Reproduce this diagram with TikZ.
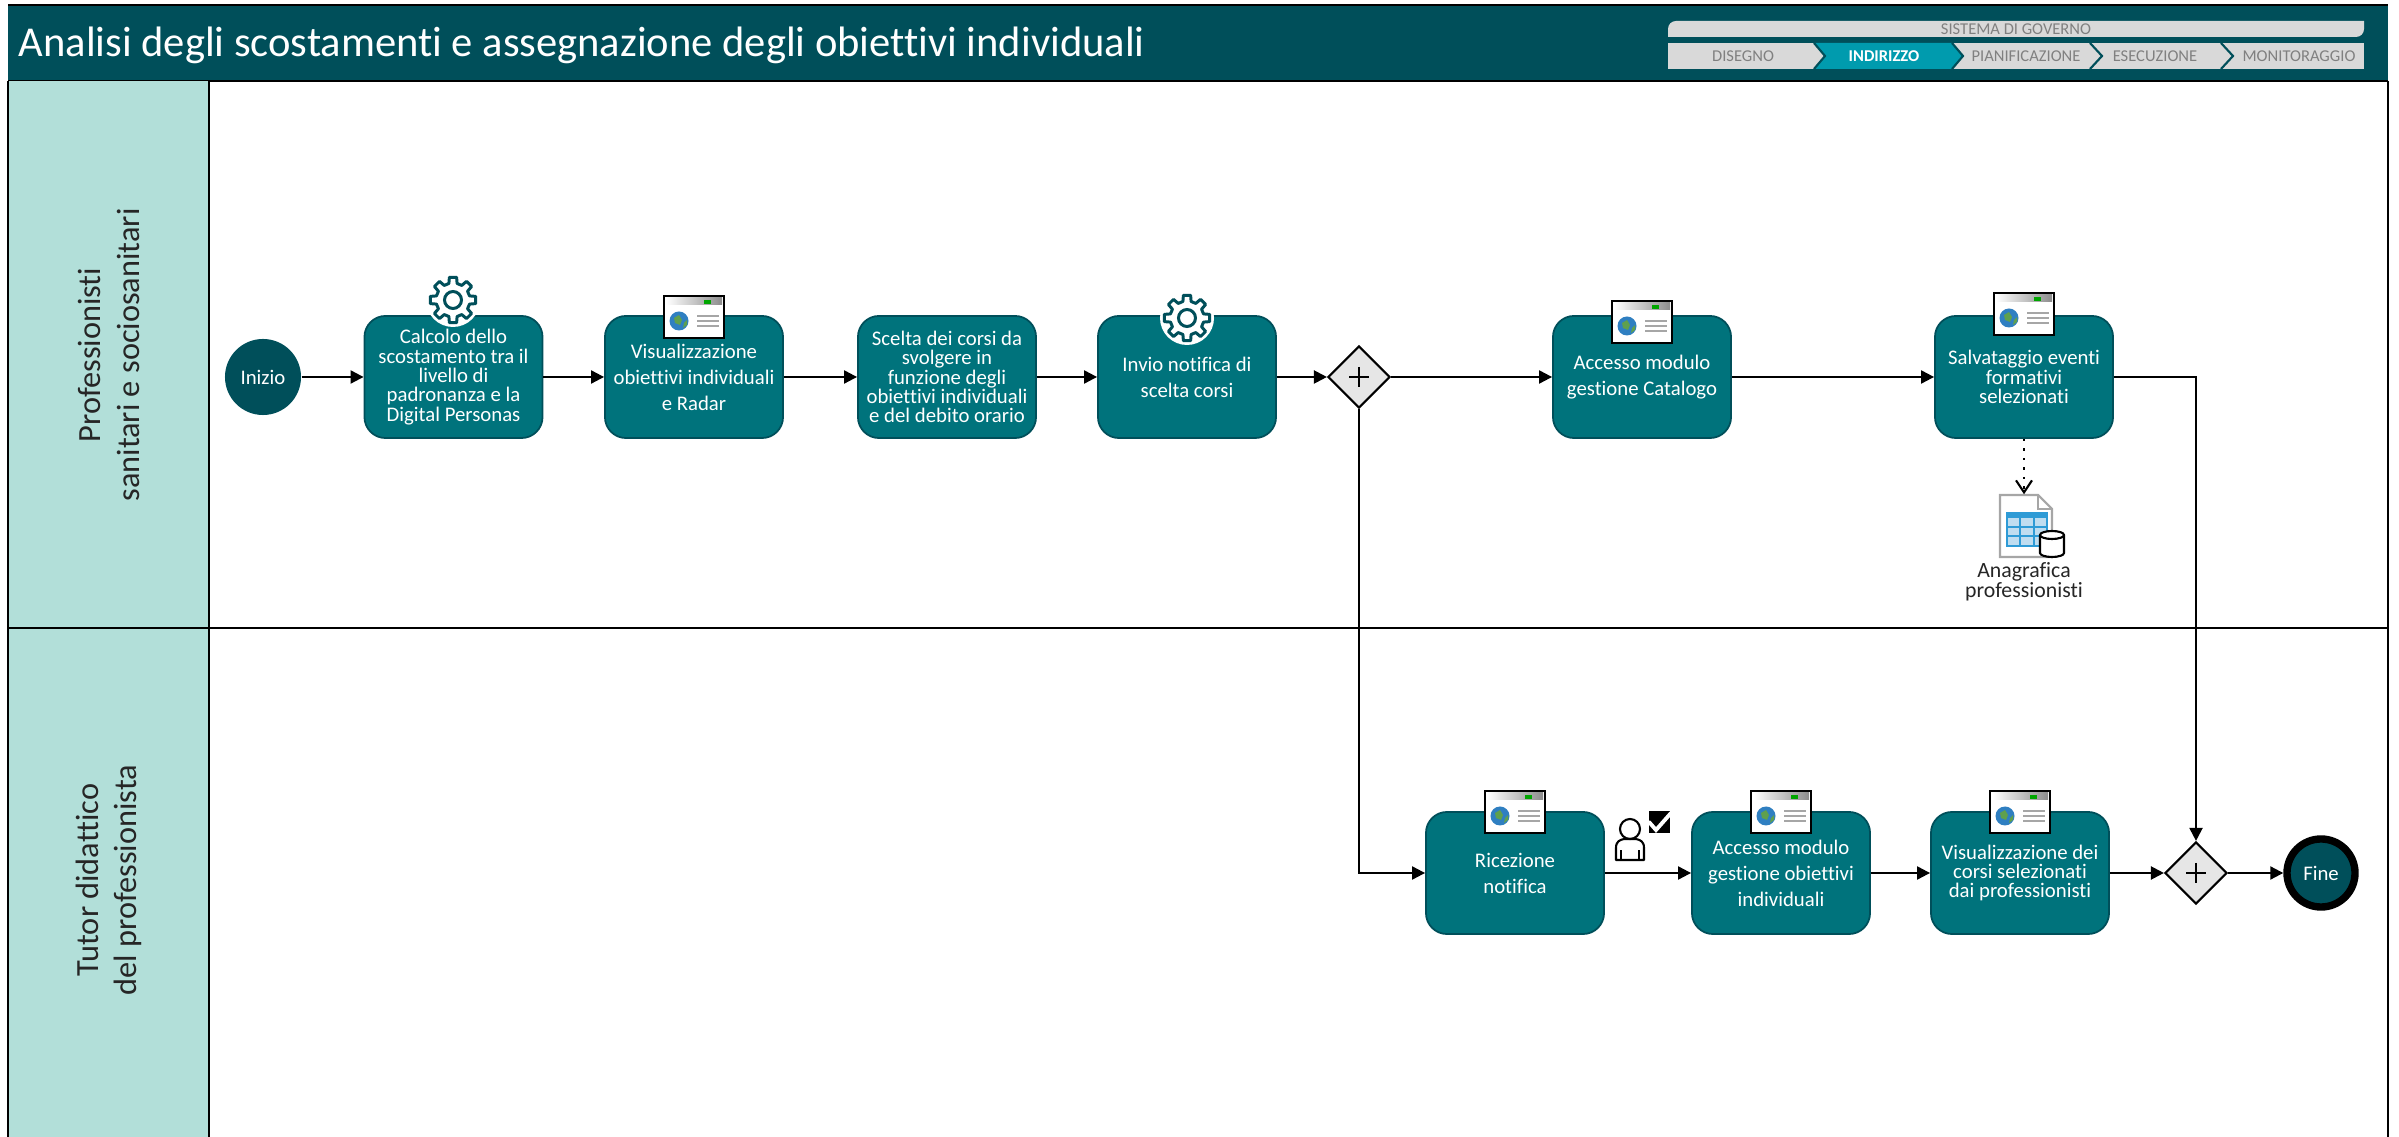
\documentclass[tikz,border=0pt]{standalone}
\usepackage{fontspec}
\setmainfont{Carlito}[Ligatures=NoCommon]
\usetikzlibrary{arrows.meta,shapes.geometric}

\definecolor{headteal}{HTML}{004F5A}
\definecolor{taskteal}{HTML}{00737C}
\definecolor{lanegreen}{HTML}{B2DFD9}
\definecolor{stagegray}{HTML}{D9D9D9}
\definecolor{stagetext}{HTML}{808080}
\definecolor{stageon}{HTML}{009BAE}
\definecolor{gategray}{HTML}{E6E6E6}
\definecolor{globeblue}{HTML}{2F7FC1}
\definecolor{globegreen}{HTML}{5FA04E}
\definecolor{tablebar}{HTML}{2E9BD6}
\definecolor{tablecell}{HTML}{BFDDF0}

\tikzset{
	taskbox/.style={draw=headteal,line width=0.5pt,fill=taskteal,rounded corners=0.21cm,minimum width=1.78cm,minimum height=1.22cm,inner sep=0pt,align=center,text=white,font=\fontsize{5.9}{5.5}\selectfont},
	taskloose/.style={taskbox,font=\fontsize{5.9}{7.4}\selectfont},
	eventnode/.style={circle,fill=headteal,minimum size=0.76cm,inner sep=0pt,text=white,font=\fontsize{5.9}{6}\selectfont},
	gatenode/.style={diamond,draw=black,line width=0.6pt,fill=gategray,minimum width=0.62cm,minimum height=0.62cm,inner sep=0pt,aspect=1},
	lanetext/.style={rotate=90,align=center,text=black!85,font=\fontsize{9.2}{10.9}\selectfont},
	stagelabel/.style={text=stagetext,font=\fontsize{4.7}{5}\selectfont,inner sep=0pt},
	flow/.style={line width=0.6pt,-{Triangle[length=0.13cm,width=0.13cm]}},
	lane/.style={line width=0.7pt,draw=black},
	pluscross/.pic={
		\draw[line width=0.7pt] (-10,0) -- (10,0) (0,-10) -- (0,10);
	},
	webicon/.pic={
		\draw[line width=0.6pt,fill=white] (-30,-21) rectangle (30,21);
		\shade[left color=white,right color=black!45] (-28,-19) rectangle (28,-12);
		\fill[green!65!black] (10,-17) rectangle (17,-13);
		\fill[globeblue] (-15,4) circle (9.5);
		\fill[globegreen] (-20,1) -- (-15,-2) -- (-12,3) -- (-14,8) -- (-19,6) -- cycle;
		\fill[globegreen] (-10,6) -- (-7,3) -- (-7,8) -- (-11,11) -- cycle;
		\draw[black!35,line width=0.3pt] (3,-1) -- (25,-1) (3,4) -- (25,4) (3,9) -- (25,9);
	},
	gearicon/.pic={
		\fill[white] (0,0) circle (27);
		\draw[headteal,line width=0.85pt,line join=round,fill=white] (-14:17)
			\foreach \ang in {0,45,...,315} { -- (\ang-14:17) -- (\ang-9:23) -- (\ang+9:23) -- (\ang+14:17) } -- cycle;
		\draw[headteal,line width=0.85pt] (0,0) circle (8.5);
	},
	docicon/.pic={
		\draw[black!35,line width=0.6pt,fill=white] (-26,-31) -- (12,-31) -- (26,-17) -- (26,31) -- (-26,31) -- cycle;
		\draw[black!35,line width=0.4pt] (12,-31) -- (12,-17) -- (26,-17);
		\fill[tablecell] (-19,-13) rectangle (21,20);
		\fill[tablebar] (-19,-13) rectangle (21,-8);
		\draw[tablebar,line width=0.4pt] (-19,-13) rectangle (21,20) (-6,-8) -- (-6,20) (8,-8) -- (8,20) (-19,1) -- (21,1) (-19,10) -- (21,10);
		\draw[black,line width=0.6pt,fill=white] (14,9) -- (14,27) arc (180:0:12 and 4) -- (38,9) arc (0:-180:12 and 4) -- cycle;
		\draw[black,line width=0.6pt] (14,9) arc (180:0:12 and 4);
	},
	usericon/.pic={
		\draw[black,line width=0.6pt,fill=white] (0,-9) circle (10);
		\draw[black,line width=0.6pt,line join=round] (-14,22) -- (-14,10) .. controls (-14,3) and (-10,2) .. (-6,1) -- (6,1) .. controls (10,2) and (14,3) .. (14,10) -- (14,22) -- cycle;
		\draw[black,line width=0.6pt] (-9,22) -- (-9,12) (9,22) -- (9,12);
		\fill[black] (19,-27) rectangle (40,-5);
		\draw[white,line width=1.1pt,line cap=round] (19,-16) -- (26,-8) -- (41,-25);
	}
}

\begin{document}
\begin{tikzpicture}[x=0.01cm,y=-0.01cm]
	\useasboundingbox (0,0) rectangle (2399,1137);

	% header
	\fill[headteal] (8,5) rectangle (2388,81);
	\draw[lane] (8,5) -- (2388,5);
	\draw[lane] (8,81) -- (2388,81);
	\node[anchor=west,text=white,inner sep=0pt,font=\fontsize{12.1}{13}\selectfont] (title) at (18,45) {Analisi degli scostamenti e assegnazione degli obiettivi individuali};

	% stages
	\fill[stagegray] (1668,37) [rounded corners=0.08cm] -- (1668,21) [sharp corners] -- (2364,21) [rounded corners=0.08cm] -- (2364,37) [sharp corners] -- cycle;
	\node[stagelabel] (governo) at (2016,29) {SISTEMA DI GOVERNO};
	\fill[stagegray] (1668,43) rectangle (2364,69);
	\fill[stageon] (1814,43) -- (1952,43) -- (1963,56) -- (1952,69) -- (1814,69) -- (1825,56) -- cycle;
	\draw[headteal,line width=0.6pt] (1814,43) -- (1825,56) -- (1814,69);
	\draw[headteal,line width=0.6pt] (1952,43) -- (1963,56) -- (1952,69);
	\draw[headteal,line width=0.6pt] (2090,43) -- (2102,56) -- (2090,69);
	\draw[headteal,line width=0.6pt] (2221,43) -- (2233,56) -- (2221,69);
	\node[stagelabel] (disegno) at (1743,56) {DISEGNO};
	\node[stagelabel,text=white,font=\fontsize{4.7}{5}\bfseries\selectfont] (indirizzo) at (1884,56) {INDIRIZZO};
	\node[stagelabel] (pianifica) at (2026,56) {PIANIFICAZIONE};
	\node[stagelabel] (esecuzione) at (2155,56) {ESECUZIONE};
	\node[stagelabel] (monitora) at (2299,56) {MONITORAGGIO};

	% lanes
	\fill[lanegreen] (8,81) rectangle (209,1137);
	\draw[lane] (8,81) -- (8,1137);
	\draw[lane] (209,81) -- (209,1137);
	\draw[lane] (2388,81) -- (2388,1137);
	\draw[lane] (8,628) -- (2388,628);
	\node[lanetext] (laneprof) at (109,355) {Professionisti\\sanitari e sociosanitari};
	\node[lanetext] (lanetutor) at (109,880) {Tutor didattico\\del professionista};

	% first lane
	\node[eventnode] (inizio) at (263,377) {Inizio};
	\node[taskbox] (calcolo) at (453.5,377) {Calcolo dello\\scostamento tra il\\livello di\\padronanza e la\\Digital Personas};
	\node[taskloose] (radar) at (694,377) {Visualizzazione\\obiettivi individuali\\e Radar};
	\node[taskbox] (scelta) at (947,377) {Scelta dei corsi da\\svolgere in\\funzione degli\\obiettivi individuali\\e del debito orario};
	\node[taskloose] (invio) at (1187,377) {Invio notifica di\\scelta corsi};
	\node[gatenode] (gateup) at (1359,377) {};
	\node[taskloose] (catalogo) at (1642,377) {Accesso modulo\\gestione Catalogo};
	\node[taskbox] (salva) at (2024,377) {Salvataggio eventi\\formativi\\selezionati};

	% second lane
	\node[taskloose] (ricezione) at (1515,873) {Ricezione\\notifica};
	\node[taskloose] (accesso) at (1781,873) {Accesso modulo\\gestione obiettivi\\individuali};
	\node[taskbox] (corsi) at (2020,873) {Visualizzazione dei\\corsi selezionati\\dai professionisti};
	\node[gatenode] (gatedown) at (2196,873) {};
	\node[eventnode,draw=black,line width=2.1pt,minimum size=0.68cm] (fine) at (2321,873) {Fine};

	% icons
	\path (gateup) pic {pluscross};
	\path (gatedown) pic {pluscross};
	\path (453,300) pic {gearicon};
	\path (694,317) pic {webicon};
	\path (1187,318) pic {gearicon};
	\path (1642,322) pic {webicon};
	\path (2024,314) pic {webicon};
	\path (1515,812) pic {webicon};
	\path (1781,812) pic {webicon};
	\path (2020,812) pic {webicon};
	\path (1630,838) pic {usericon};
	\node[inner sep=0pt,minimum width=0.52cm,minimum height=0.62cm] (anagdoc) at (2026,526) {};
	\path (anagdoc) pic {docicon};
	\node[inner sep=0pt,align=center,text=black!85,font=\fontsize{6.2}{5.6}\selectfont] (anagtext) at (2024,582) {Anagrafica\\professionisti};

	% flows
	\draw[flow] (inizio) -- (calcolo);
	\draw[flow] (calcolo) -- (radar);
	\draw[flow] (radar) -- (scelta);
	\draw[flow] (scelta) -- (invio);
	\draw[flow] (invio) -- (gateup);
	\draw[flow] (gateup) -- (catalogo);
	\draw[flow] (catalogo) -- (salva);
	\draw[flow] (salva) -| (gatedown);
	\draw[flow] (gateup) |- (ricezione);
	\draw[flow] (ricezione) -- (accesso);
	\draw[flow] (accesso) -- (corsi);
	\draw[flow] (corsi) -- (gatedown);
	\draw[flow] (gatedown) -- (fine);
	\draw[line width=0.7pt,dotted,-{Straight Barb[length=0.12cm,width=0.16cm,line width=0.6pt]}] (salva.south) -- (salva.south |- anagdoc.north);
\end{tikzpicture}
\end{document}
